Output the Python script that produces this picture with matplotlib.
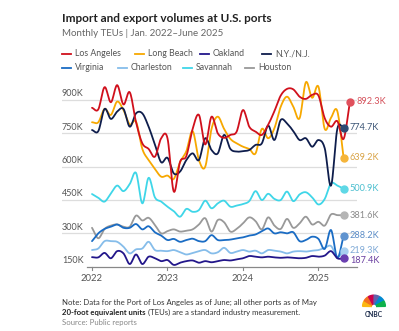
import numpy as np
import matplotlib
matplotlib.use("Agg")
import matplotlib.pyplot as plt
from matplotlib.lines import Line2D
from matplotlib.patches import Wedge

plt.rcParams['font.family'] = ['Lato', 'DejaVu Sans']

# monthly TEUs (thousands), Jan 2022 onward
years = [2022, 2023, 2024, 2025]
los_angeles = [865, 858, 958, 890, 967, 880, 935, 800, 705, 680, 645, 728, 728, 488,
               622, 648, 770, 833, 700, 825, 750, 730, 743, 758, 855, 780, 758, 743,
               788, 850, 920, 950, 948, 915, 905, 923, 920, 818, 780, 805, 725, 892.3]
long_beach = [800, 800, 860, 833, 893, 855, 790, 803, 680, 630, 590, 555, 560, 545,
              620, 670, 760, 630, 600, 770, 825, 770, 725, 705, 690, 680, 660, 770,
              728, 773, 870, 915, 870, 818, 980, 910, 960, 770, 820, 850, 639.2]
oakland = [193, 192, 212, 188, 220, 210, 162, 205, 162, 195, 188, 175, 180, 158,
           168, 175, 178, 168, 175, 170, 175, 180, 178, 183, 188, 198, 195, 192,
           195, 192, 190, 192, 190, 188, 190, 198, 195, 200, 220, 188, 187.4]
ny_nj = [765, 760, 860, 815, 848, 860, 780, 840, 840, 780, 700, 620, 640, 570,
         578, 630, 660, 630, 728, 675, 660, 743, 680, 668, 670, 675, 698, 705,
         785, 720, 810, 795, 760, 720, 728, 690, 720, 683, 515, 770, 774.7]
virginia = [265, 300, 320, 330, 340, 325, 325, 342, 318, 332, 305, 290, 270, 275,
            262, 270, 276, 265, 265, 292, 270, 270, 272, 278, 282, 290, 295, 310,
            322, 300, 305, 300, 305, 265, 270, 285, 275, 230, 315, 190, 288.2]
charleston = [225, 232, 265, 265, 262, 240, 210, 228, 232, 262, 225, 222, 220, 225,
              215, 205, 212, 220, 225, 210, 215, 235, 212, 218, 225, 218, 222, 210,
              225, 222, 218, 210, 218, 220, 218, 222, 225, 235, 243, 195, 219.3]
savannah = [477, 460, 443, 480, 515, 490, 522, 572, 435, 550, 462, 443, 420, 400,
            375, 410, 397, 405, 447, 413, 435, 447, 420, 425, 432, 445, 490, 450,
            478, 455, 450, 488, 445, 475, 485, 462, 430, 455, 525, 515, 500.9]
houston = [325, 278, 320, 335, 340, 330, 330, 380, 358, 370, 338, 300, 310, 318,
           308, 312, 318, 340, 368, 308, 360, 350, 308, 320, 345, 372, 355, 318,
           372, 335, 320, 365, 325, 345, 375, 340, 352, 335, 385, 382, 381.6]

names = ["Los Angeles", "Long Beach", "Oakland", "N.Y./N.J.",
         "Virginia", "Charleston", "Savannah", "Houston"]
series = [los_angeles, long_beach, oakland, ny_nj, virginia, charleston, savannah, houston]
line_cols = ["#d0101c", "#f7a800", "#22168a", "#0e1d4c",
             "#1a6cc4", "#86bdea", "#3fd6e8", "#999999"]
dot_cols = ["#e0505c", "#f5b53a", "#6a3fb0", "#2e4a72",
            "#5f93cf", "#a9d0f0", "#5fd8e6", "#b5b5b5"]
lab_cols = ["#d4505a", "#d9a345", "#6a3fa0", "#3d5677",
            "#5b8cc6", "#7fa9d6", "#4cbfcf", "#8a8a8a"]
lab_shift = [0, 0, -8, 0, 0, 5, 0, 0]   # thousands, to keep end labels apart
draw_order = [7, 5, 4, 2, 6, 1, 3, 0]


def smooth(y, steps=12):
    # catmull-rom curve through the monthly points, for drawing only
    y = np.asarray(y, float)
    n = len(y)
    m = np.zeros(n)
    m[1:-1] = (y[2:] - y[:-2]) / 2
    m[0] = y[1] - y[0]
    m[-1] = y[-1] - y[-2]
    xs, ys = [], []
    t = np.linspace(0, 1, steps, endpoint=False)
    h00 = 2 * t**3 - 3 * t**2 + 1
    h10 = t**3 - 2 * t**2 + t
    h01 = -2 * t**3 + 3 * t**2
    h11 = t**3 - t**2
    for i in range(n - 1):
        xs.extend(i + t)
        ys.extend(h00 * y[i] + h10 * m[i] + h01 * y[i + 1] + h11 * m[i + 1])
    xs.append(n - 1)
    ys.append(y[-1])
    return np.array(xs), np.array(ys)


fig = plt.figure(figsize=(3.99, 3.31), dpi=100)
ax = fig.add_axes([62 / 399, 64.3 / 331, 295 / 399, 188.9 / 331])
ax.set_xlim(-4.77, 42.13)
ax.set_ylim(150, 1000)
for s in ax.spines.values():
    s.set_visible(False)
ax.set_xticks([])
ax.set_yticks([])

for v in [300, 450, 600, 750, 900]:
    ax.axhline(v, color="#dddddd", lw=0.9, zorder=0)
    ax.text(-4.77, v + 8, f"{v}K", fontsize=6.5, color="#555555", va="bottom", ha="left")
ax.text(-4.77, 150 + 8, "150K", fontsize=6.5, color="#555555", va="bottom", ha="left")
ax.plot([-0.8, 42.13], [150, 150], color="#888888", lw=0.9, clip_on=False, zorder=1)

for k, yr in enumerate(years):
    mx = 12 * k
    ax.plot([mx, mx], [150, 135], color="#888888", lw=0.8, clip_on=False)
    ax.text(mx, 118, str(yr), fontsize=6.8, color="#555555", ha="center", va="top")

for i in draw_order:
    xs, ys = smooth(series[i])
    ax.plot(xs, ys, color=line_cols[i], lw=1.3, clip_on=False, zorder=3,
            solid_capstyle="round")
    last = len(series[i]) - 1
    ax.plot(last, series[i][-1], "o", ms=5, color=dot_cols[i], zorder=4, clip_on=False)
    ax.text(last + 1.0, series[i][-1] + lab_shift[i], f"{series[i][-1]:.1f}K",
            fontsize=6.6, color=lab_cols[i], va="center", ha="left")

# title block
fig.text(62 / 399, 1 - 18 / 331, "Import and export volumes at U.S. ports",
         fontsize=8.5, fontweight="bold", color="#222222", va="center")
fig.text(62 / 399, 1 - 33 / 331, "Monthly TEUs | Jan. 2022\u2013June 2025",
         fontsize=7, color="#666666", va="center")

# legend drawn by hand
leg_pos = [(62, 54), (135, 54), (200, 54), (262, 54),
           (62, 68), (118, 68), (183, 68), (245, 68)]
for i, (px, py) in enumerate(leg_pos):
    fy = 1 - py / 331
    fig.add_artist(Line2D([px / 399, (px + 9) / 399], [fy, fy], color=line_cols[i], lw=1.3))
    fig.text((px + 13) / 399, fy, names[i], fontsize=6.3, color="#555555", va="center")

# footer
fig.text(62 / 399, 1 - 302 / 331,
         "Note: Data for the Port of Los Angeles as of June; all other ports as of May",
         fontsize=5.6, color="#333333", va="center")
b = fig.text(62 / 399, 1 - 312 / 331, "20-foot equivalent units", fontsize=5.6,
             fontweight="bold", color="#222222", va="center")
fig.canvas.draw()
bb = b.get_window_extent()
fig.text(bb.x1 / 399 + 2.5 / 399, 1 - 312 / 331,
         "(TEUs) are a standard industry measurement.",
         fontsize=5.6, color="#333333", va="center")
fig.text(62 / 399, 1 - 323 / 331, "Source: Public reports", fontsize=5.6,
         color="#888888", va="center")

# small peacock logo
lax = fig.add_axes([361 / 399, 12 / 331, 26 / 399, 26 / 331])
lax.set_xlim(-1.2, 1.2)
lax.set_ylim(-1.0, 1.4)
lax.set_aspect("equal")
lax.axis("off")
feather = ["#fcb711", "#f37021", "#cc004c", "#6460aa", "#0089d0", "#0db14b"]
for j, c in enumerate(feather):
    a0 = 180 - j * 30
    lax.add_patch(Wedge((0, 0.15), 1.05, a0 - 29, a0 - 1, width=0.8, color=c))
lax.text(0, -0.6, "CNBC", fontsize=4.8, fontweight="bold", color="#1a2a4a",
         ha="center", va="center")

fig.savefig("out.png", dpi=100, facecolor="white")
